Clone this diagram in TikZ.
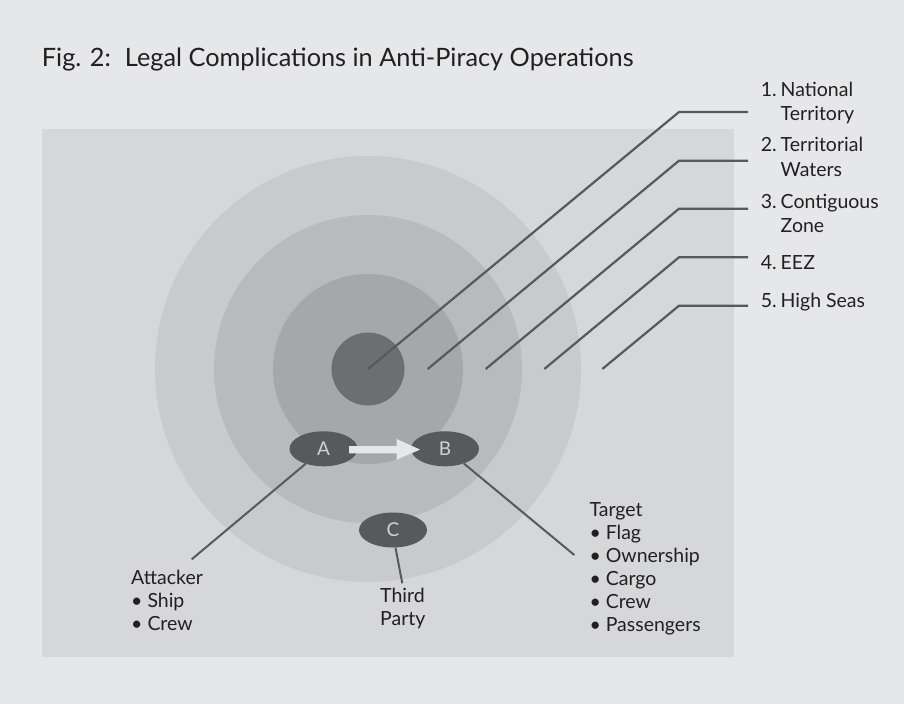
\documentclass[tikz,border=0pt]{standalone}
\usepackage{fontspec}
\setmainfont{Lato}
\usetikzlibrary{shapes.geometric}
\definecolor{bg}{HTML}{E6E7E8}
\definecolor{panel}{HTML}{D6D7D8}
\definecolor{zfour}{HTML}{C9CACC}
\definecolor{zthree}{HTML}{B9BABC}
\definecolor{ztwo}{HTML}{A6A7A9}
\definecolor{zcore}{HTML}{6D6E70}
\definecolor{ink}{HTML}{231F20}
\definecolor{dark}{HTML}{58595B}
\definecolor{letter}{HTML}{D1D2D3}
\definecolor{arrowc}{HTML}{E6E7E8}
\newcommand{\stacklines}[1]{\begin{tabular}[t]{@{}l@{}}#1\end{tabular}}
\begin{document}
\begin{tikzpicture}[x=1pt,y=-1pt,
  lbl/.style={font=\fontsize{19.5}{23}\selectfont, text=ink, inner sep=0pt},
  toplbl/.style={font=\fontsize{19.5}{24.5}\selectfont, text=ink, inner sep=0pt},
  zonedisk/.style={circle, inner sep=0pt},
  ship/.style={ellipse, fill=dark, minimum width=68pt, minimum height=35pt, inner sep=0pt, text=letter, font=\fontsize{19}{23}\selectfont},
  leader/.style={draw=dark, line width=2.2pt},
  conn/.style={draw=dark, line width=2pt},
  ]
\useasboundingbox (0,0) rectangle (904,704);
\fill[bg] (0,0) rectangle (904,704);
\fill[panel] (42,129) rectangle (734,657);

% title
\node[anchor=base west, inner sep=0pt, text=ink, font=\fontsize{25.3}{30}\selectfont] (title) at (41.7,66)
  {Fig. 2:\hspace{14pt}Legal Complications in Anti-Piracy Operations};

% zones
\node[zonedisk, fill=zfour, minimum size=426pt] (z4) at (368,369) {};
\node[zonedisk, fill=zthree, minimum size=308pt] (z3) at (368,369) {};
\node[zonedisk, fill=ztwo, minimum size=190pt] (z2) at (368,369) {};
\node[zonedisk, fill=zcore, minimum size=73pt] (z1) at (368,369) {};

% leader points
\coordinate (p1) at (368,369);
\coordinate (p2) at (427.7,369);
\coordinate (p3) at (485.7,369);
\coordinate (p4) at (544.3,369);
\coordinate (p5) at (602.3,369);
\coordinate (e1) at (679,112);
\coordinate (e2) at (679,160.7);
\coordinate (e3) at (679,208.7);
\coordinate (e4) at (679,257.3);
\coordinate (e5) at (679,305.7);
\coordinate (f1) at (748,112);
\coordinate (f2) at (748,160.7);
\coordinate (f3) at (748,208.7);
\coordinate (f4) at (748,257.3);
\coordinate (f5) at (748,305.7);
\foreach \i in {1,...,5}{
  \draw[leader] (p\i) -- (e\i) -- (f\i);
}

% zone labels
\node[toplbl, anchor=base east] (n1) at (777,96) {1.};
\node[toplbl, anchor=base west] (t1) at (780.5,96) {\stacklines{National\\Territory}};
\node[toplbl, anchor=base east] (n2) at (777,151.7) {2.};
\node[toplbl, anchor=base west] (t2) at (780.5,151.7) {\stacklines{Territorial\\Waters}};
\node[toplbl, anchor=base east] (n3) at (777,208.3) {3.};
\node[toplbl, anchor=base west] (t3) at (780.5,208.3) {\stacklines{Contiguous\\Zone}};
\node[toplbl, anchor=base east] (n4) at (777,269.3) {4.};
\node[toplbl, anchor=base west] (t4) at (780.5,269.3) {EEZ};
\node[toplbl, anchor=base east] (n5) at (777,307.3) {5.};
\node[toplbl, anchor=base west] (t5) at (780.5,307.3) {High Seas};

% ships
\node[ship] (A) at (323.5,448.8) {A};
\node[ship] (B) at (445,448.8) {B};
\node[ship] (C) at (393,530) {C};

% arrow A -> B
\fill[arrowc] (349,446) -- (396.7,446) -- (396.7,439) -- (420,449.6)
  -- (396.7,459.8) -- (396.7,453.3) -- (349,453.3) -- cycle;

% connectors
\coordinate (ae) at (191.7,559.3);
\coordinate (be) at (574.3,555);
\coordinate (ce) at (402.3,583.3);
\draw[conn] (A.220) -- (ae);
\draw[conn] (B.-38) -- (be);
\draw[conn] (C.-82) -- (ce);

% party labels
\node[lbl, anchor=base west] (att) at (131,584)
  {\stacklines{Attacker\\\textbullet\ Ship\\\textbullet\ Crew}};
\node[lbl, anchor=base west] (tp) at (380,602.7)
  {\stacklines{Third\\Party}};
\node[lbl, anchor=base west] (tgt) at (589.3,516.7)
  {\stacklines{Target\\\textbullet\ Flag\\\textbullet\ Ownership\\\textbullet\ Cargo\\\textbullet\ Crew\\\textbullet\ Passengers}};
\end{tikzpicture}
\end{document}
